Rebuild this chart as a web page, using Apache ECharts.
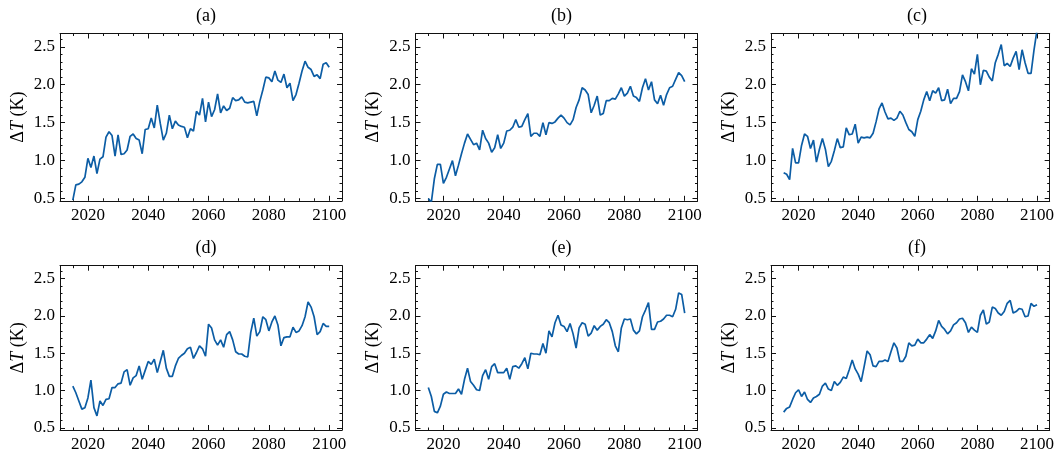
<!DOCTYPE html>
<html><head><meta charset="utf-8">
<script src="https://cdn.jsdelivr.net/npm/echarts@6/dist/echarts.min.js"></script>
<style>html,body{margin:0;padding:0;background:#fff}#c{width:1057px;height:453px}</style>
</head><body><div id="c"></div>
<script>
const years = [2015,2016,2017,2018,2019,2020,2021,2022,2023,2024,2025,2026,2027,2028,2029,2030,2031,2032,2033,2034,2035,2036,2037,2038,2039,2040,2041,2042,2043,2044,2045,2046,2047,2048,2049,2050,2051,2052,2053,2054,2055,2056,2057,2058,2059,2060,2061,2062,2063,2064,2065,2066,2067,2068,2069,2070,2071,2072,2073,2074,2075,2076,2077,2078,2079,2080,2081,2082,2083,2084,2085,2086,2087,2088,2089,2090,2091,2092,2093,2094,2095,2096,2097,2098,2099,2100];

const seriesA = [0.48,0.68,0.69,0.72,0.78,1.03,0.91,1.06,0.83,1.02,1.05,1.31,1.38,1.33,1.06,1.34,1.08,1.09,1.14,1.32,1.35,1.29,1.27,1.09,1.41,1.42,1.56,1.43,1.73,1.49,1.27,1.36,1.60,1.42,1.52,1.47,1.45,1.44,1.30,1.42,1.39,1.65,1.60,1.82,1.51,1.77,1.58,1.67,1.88,1.63,1.72,1.66,1.69,1.83,1.79,1.80,1.84,1.77,1.76,1.77,1.78,1.59,1.78,1.93,2.10,2.09,2.04,2.18,2.06,2.03,2.14,1.96,2.02,1.79,1.87,2.02,2.18,2.31,2.23,2.20,2.11,2.13,2.08,2.27,2.29,2.23];
const seriesB = [0.50,0.45,0.76,0.95,0.95,0.70,0.78,0.89,1.00,0.80,0.94,1.09,1.23,1.35,1.28,1.21,1.23,1.14,1.40,1.29,1.23,1.11,1.17,1.34,1.16,1.23,1.39,1.40,1.44,1.54,1.44,1.45,1.54,1.62,1.32,1.36,1.36,1.32,1.50,1.34,1.50,1.49,1.51,1.56,1.60,1.56,1.50,1.47,1.54,1.70,1.80,1.96,1.93,1.87,1.63,1.73,1.85,1.60,1.62,1.79,1.79,1.82,1.81,1.88,1.96,1.85,1.89,1.98,1.85,1.83,1.78,1.96,2.08,1.93,2.04,1.80,1.75,1.86,1.73,1.87,1.96,1.98,2.07,2.16,2.12,2.04];
const seriesC = [0.84,0.82,0.75,1.16,0.97,0.97,1.20,1.35,1.32,1.16,1.27,0.98,1.15,1.29,1.15,0.92,0.99,1.13,1.29,1.17,1.18,1.43,1.34,1.35,1.48,1.23,1.31,1.30,1.31,1.30,1.36,1.51,1.68,1.76,1.64,1.55,1.56,1.53,1.56,1.65,1.60,1.50,1.41,1.38,1.32,1.54,1.65,1.80,1.91,1.79,1.92,1.89,1.96,1.79,1.80,1.94,1.75,1.82,1.82,1.91,2.13,2.04,1.92,2.21,2.14,2.40,2.00,2.19,2.18,2.10,2.05,2.29,2.40,2.53,2.25,2.28,2.24,2.35,2.44,2.20,2.46,2.29,2.15,2.15,2.46,2.72];
const seriesD = [1.06,0.97,0.86,0.75,0.77,0.90,1.14,0.77,0.66,0.86,0.80,0.88,0.89,1.04,1.04,1.09,1.10,1.25,1.28,1.07,1.17,1.20,1.33,1.15,1.27,1.39,1.35,1.42,1.24,1.39,1.54,1.30,1.19,1.19,1.33,1.43,1.47,1.50,1.56,1.58,1.43,1.51,1.60,1.56,1.46,1.89,1.84,1.68,1.61,1.68,1.58,1.75,1.79,1.68,1.52,1.49,1.49,1.46,1.45,1.78,1.97,1.73,1.79,1.99,1.95,1.80,1.92,2.00,1.88,1.60,1.71,1.72,1.72,1.85,1.78,1.80,1.87,1.99,2.19,2.12,1.99,1.75,1.79,1.90,1.86,1.86];
const seriesE = [1.04,0.92,0.72,0.70,0.79,0.95,0.98,0.96,0.96,0.96,1.02,0.95,1.15,1.30,1.12,1.07,1.01,1.00,1.20,1.28,1.15,1.32,1.36,1.24,1.24,1.24,1.30,1.15,1.32,1.33,1.30,1.36,1.44,1.29,1.50,1.49,1.49,1.48,1.63,1.50,1.80,1.72,1.91,2.01,1.88,1.86,1.79,1.90,1.76,1.57,1.84,1.91,1.89,1.73,1.77,1.87,1.81,1.86,1.89,1.95,1.91,1.79,1.60,1.52,1.84,1.96,1.95,1.96,1.81,1.76,1.80,1.99,2.08,2.18,1.82,1.82,1.92,1.93,1.96,2.01,2.01,1.99,2.09,2.31,2.29,2.04];
const seriesF = [0.71,0.76,0.78,0.88,0.97,1.01,0.92,0.98,0.88,0.84,0.90,0.92,0.95,1.06,1.10,1.02,1.00,1.12,1.07,1.11,1.18,1.16,1.28,1.41,1.29,1.22,1.12,1.32,1.53,1.48,1.33,1.32,1.39,1.39,1.41,1.39,1.52,1.64,1.57,1.39,1.39,1.46,1.64,1.60,1.61,1.69,1.64,1.64,1.69,1.75,1.70,1.80,1.94,1.86,1.82,1.76,1.80,1.88,1.91,1.96,1.97,1.91,1.78,1.85,1.81,1.78,2.01,2.08,1.89,1.92,2.12,2.10,2.04,2.01,2.06,2.17,2.21,2.04,2.06,2.10,2.09,1.99,2.00,2.17,2.13,2.15];

const panelSeries = [seriesA, seriesB, seriesC, seriesD, seriesE, seriesF];
const panelTitles = ['(a)', '(b)', '(c)', '(d)', '(e)', '(f)'];
const xMajorTicks = [2020, 2040, 2060, 2080, 2100];
const xMinorTicks = [2015, 2025, 2030, 2035, 2045, 2050, 2055, 2065, 2070, 2075, 2085, 2090, 2095];
const yMajorTicks = [0.5, 1.0, 1.5, 2.0, 2.5];
const yMinorTicks = [0.6, 0.7, 0.8, 0.9, 1.1, 1.2, 1.3, 1.4, 1.6, 1.7, 1.8, 1.9, 2.1, 2.2, 2.3, 2.4, 2.6];
const yAxisTitle = '{n|Δ}{i|T}{n| (K)}';

const FONT = '"Liberation Serif", "DejaVu Serif", serif';
const LINE_COLOR = '#0C5DA5';
const AX = '#111';
const X_MIN = 2010.75, X_MAX = 2104.25;
const Y_MIN = 0.47, Y_MAX = 2.675;

const gridLefts = [60, 415.5, 771];
const gridTops = [33.5, 265.7];
const gridW = 282, gridH = 167.3;

const grids = [], xAxes = [], yAxes = [], series = [], titles = [];

for (let g = 0; g < 6; g++) {
  const col = g % 3, row = Math.floor(g / 3);
  const left = gridLefts[col], top = gridTops[row];
  grids.push({ left: left, top: top, width: gridW, height: gridH, containLabel: false });
  titles.push({ text: panelTitles[g], left: left + gridW / 2, top: top - 31, textAlign: 'center',
    textStyle: { fontFamily: FONT, fontSize: 18, fontWeight: 'normal', color: '#000' } });

  const xb = { type: 'value', gridIndex: g, min: X_MIN, max: X_MAX, splitLine: { show: false } };
  const lineOn = { show: true, onZero: false, lineStyle: { color: AX, width: 1 } };
  const lineOff = { show: false, onZero: false };
  xAxes.push(Object.assign({}, xb, { position: 'bottom', axisLine: lineOn,
    axisTick: { show: true, inside: true, length: 5, customValues: xMajorTicks, lineStyle: { color: AX, width: 1 } },
    axisLabel: { show: true, customValues: xMajorTicks, margin: 6, color: '#000', fontFamily: FONT, fontSize: 17,
      formatter: v => String(Math.round(v)) } }));
  xAxes.push(Object.assign({}, xb, { position: 'bottom', axisLine: lineOff,
    axisTick: { show: true, inside: true, length: 2.5, customValues: xMinorTicks, lineStyle: { color: AX, width: 1 } },
    axisLabel: { show: false } }));
  xAxes.push(Object.assign({}, xb, { position: 'top', axisLine: lineOn,
    axisTick: { show: true, inside: true, length: 5, customValues: xMajorTicks, lineStyle: { color: AX, width: 1 } },
    axisLabel: { show: false } }));
  xAxes.push(Object.assign({}, xb, { position: 'top', axisLine: lineOff,
    axisTick: { show: true, inside: true, length: 2.5, customValues: xMinorTicks, lineStyle: { color: AX, width: 1 } },
    axisLabel: { show: false } }));

  const yb = { type: 'value', gridIndex: g, min: Y_MIN, max: Y_MAX, splitLine: { show: false } };
  yAxes.push(Object.assign({}, yb, { position: 'left', axisLine: lineOn,
    axisTick: { show: true, inside: true, length: 5, customValues: yMajorTicks, lineStyle: { color: AX, width: 1 } },
    axisLabel: { show: true, customValues: yMajorTicks, margin: 5, color: '#000', fontFamily: FONT, fontSize: 17,
      formatter: v => v.toFixed(1) },
    name: yAxisTitle, nameLocation: 'middle', nameGap: 33, nameRotate: 90,
    nameTextStyle: { color: '#000', fontFamily: FONT, fontSize: 18,
      rich: { n: { fontFamily: FONT, fontSize: 18, color: '#000' },
              i: { fontFamily: FONT, fontSize: 18, fontStyle: 'italic', color: '#000' } } } }));
  yAxes.push(Object.assign({}, yb, { position: 'left', axisLine: lineOff,
    axisTick: { show: true, inside: true, length: 2.5, customValues: yMinorTicks, lineStyle: { color: AX, width: 1 } },
    axisLabel: { show: false } }));
  yAxes.push(Object.assign({}, yb, { position: 'right', axisLine: lineOn,
    axisTick: { show: true, inside: true, length: 5, customValues: yMajorTicks, lineStyle: { color: AX, width: 1 } },
    axisLabel: { show: false } }));
  yAxes.push(Object.assign({}, yb, { position: 'right', axisLine: lineOff,
    axisTick: { show: true, inside: true, length: 2.5, customValues: yMinorTicks, lineStyle: { color: AX, width: 1 } },
    axisLabel: { show: false } }));

  series.push({ type: 'line', xAxisIndex: g * 4, yAxisIndex: g * 4, showSymbol: false, symbol: 'none',
    clip: true, animation: false,
    data: years.map((yr, i) => [yr, panelSeries[g][i]]),
    lineStyle: { color: LINE_COLOR, width: 1.7 } });
}

const chart = echarts.init(document.getElementById('c'), null, { renderer: 'canvas' });
chart.setOption({ animation: false, backgroundColor: '#fff', title: titles, grid: grids,
  xAxis: xAxes, yAxis: yAxes, series: series });
</script></body></html>
